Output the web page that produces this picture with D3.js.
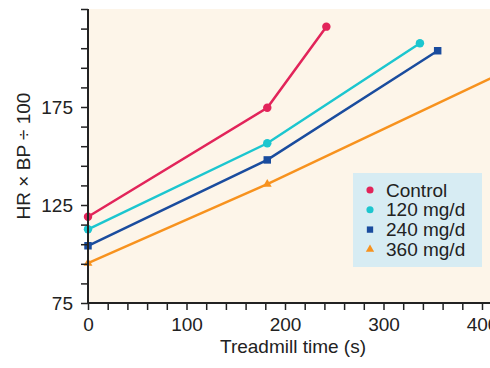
<!DOCTYPE html>
<html><head><meta charset="utf-8">
<script src="https://cdn.jsdelivr.net/npm/d3@7"></script>
<style>body{margin:0;background:#fff}svg{display:block}text{font-family:"Liberation Sans",Arial,sans-serif;fill:#222}</style>
</head><body><svg id="c" width="490" height="368"></svg>
<script>
const seriesNames = ["Control", "120 mg/d", "240 mg/d", "360 mg/d"];
const seriesColors = ["#e2245a", "#1cc6cf", "#1a4c9e", "#f7921e"];
const seriesShapes = ["circle", "circle", "square", "triangle"];
const controlTime = [0, 182, 242];
const controlValue = [119, 174.6, 216];
const mg120Time = [0, 182, 337];
const mg120Value = [112.6, 156.5, 207.5];
const mg240Time = [0, 182, 355];
const mg240Value = [104.2, 148, 203.7];
const mg360Time = [0, 182, 420];
const mg360Value = [95.3, 135.6, 192.3];
const xTickLabels = [0, 100, 200, 300, 400];
const yTickLabels = [75, 125, 175];

const times = [controlTime, mg120Time, mg240Time, mg360Time];
const values = [controlValue, mg120Value, mg240Value, mg360Value];

const svg = d3.select("#c");
const x = d3.scaleLinear().domain([0, 400]).range([88, 482]);
const y = d3.scaleLinear().domain([75, 225]).range([303, 9]);

svg.append("rect").attr("x", 88).attr("y", 9).attr("width", 402).attr("height", 294).attr("fill", "#fdf5e9");

const sym = {circle: d3.symbolCircle, square: d3.symbolSquare, triangle: d3.symbolTriangle};
const symSize = {circle: 56, square: 56, triangle: 34};

seriesNames.forEach((n, i) => {
  const pts = times[i].map((t, j) => [t, values[i][j]]);
  svg.append("path").datum(pts)
    .attr("d", d3.line().x(d => x(d[0])).y(d => y(d[1])))
    .attr("fill", "none").attr("stroke", seriesColors[i]).attr("stroke-width", 2.5);
  svg.selectAll(null).data(pts).enter().append("path")
    .attr("transform", d => `translate(${x(d[0])},${y(d[1])})`)
    .attr("d", d3.symbol().type(sym[seriesShapes[i]]).size(symSize[seriesShapes[i]]))
    .attr("fill", seriesColors[i]);
});

// axes
const xAxis = d3.axisBottom(x).tickValues(d3.range(0, 401, 20)).tickSize(7).tickPadding(8)
  .tickFormat(d => xTickLabels.includes(d) ? d : "");
const gx = svg.append("g").attr("transform", "translate(0,303)").call(xAxis);
gx.select(".domain").attr("d", "M88,0H490").attr("stroke", "#222").attr("stroke-width", 2);
gx.selectAll(".tick line").attr("stroke", "#222").attr("stroke-width", 1.5);
gx.selectAll("text").style("font-size", "19px").attr("fill", "#222");

const yAxis = d3.axisLeft(y).tickValues(d3.range(75, 226, 10)).tickSize(7).tickPadding(8)
  .tickFormat(d => yTickLabels.includes(d) ? d : "");
const gy = svg.append("g").attr("transform", "translate(88,0)").call(yAxis);
gy.select(".domain").attr("d", "M0,9V303").attr("stroke", "#222").attr("stroke-width", 2);
gy.selectAll(".tick line").attr("stroke", "#222").attr("stroke-width", 1.5);
gy.selectAll("text").style("font-size", "19px").attr("fill", "#222");

svg.append("text").attr("x", 293).attr("y", 353).attr("text-anchor", "middle")
  .style("font-size", "19px").text("Treadmill time (s)");
svg.append("text").attr("transform", "translate(30,156) rotate(-90)").attr("text-anchor", "middle")
  .style("font-size", "19px").text("HR × BP ÷ 100");

// legend
const lg = svg.append("g");
lg.append("rect").attr("x", 353).attr("y", 173).attr("width", 129).attr("height", 94).attr("fill", "#d7ecf3");
seriesNames.forEach((n, i) => {
  const yy = 190 + i * 19.8;
  lg.append("path").attr("transform", `translate(370,${yy})`)
    .attr("d", d3.symbol().type(sym[seriesShapes[i]]).size(seriesShapes[i] === "triangle" ? 30 : 40))
    .attr("fill", seriesColors[i]);
  lg.append("text").attr("x", 386).attr("y", yy + 6.5).style("font-size", "19px").text(n);
});
</script></body></html>
